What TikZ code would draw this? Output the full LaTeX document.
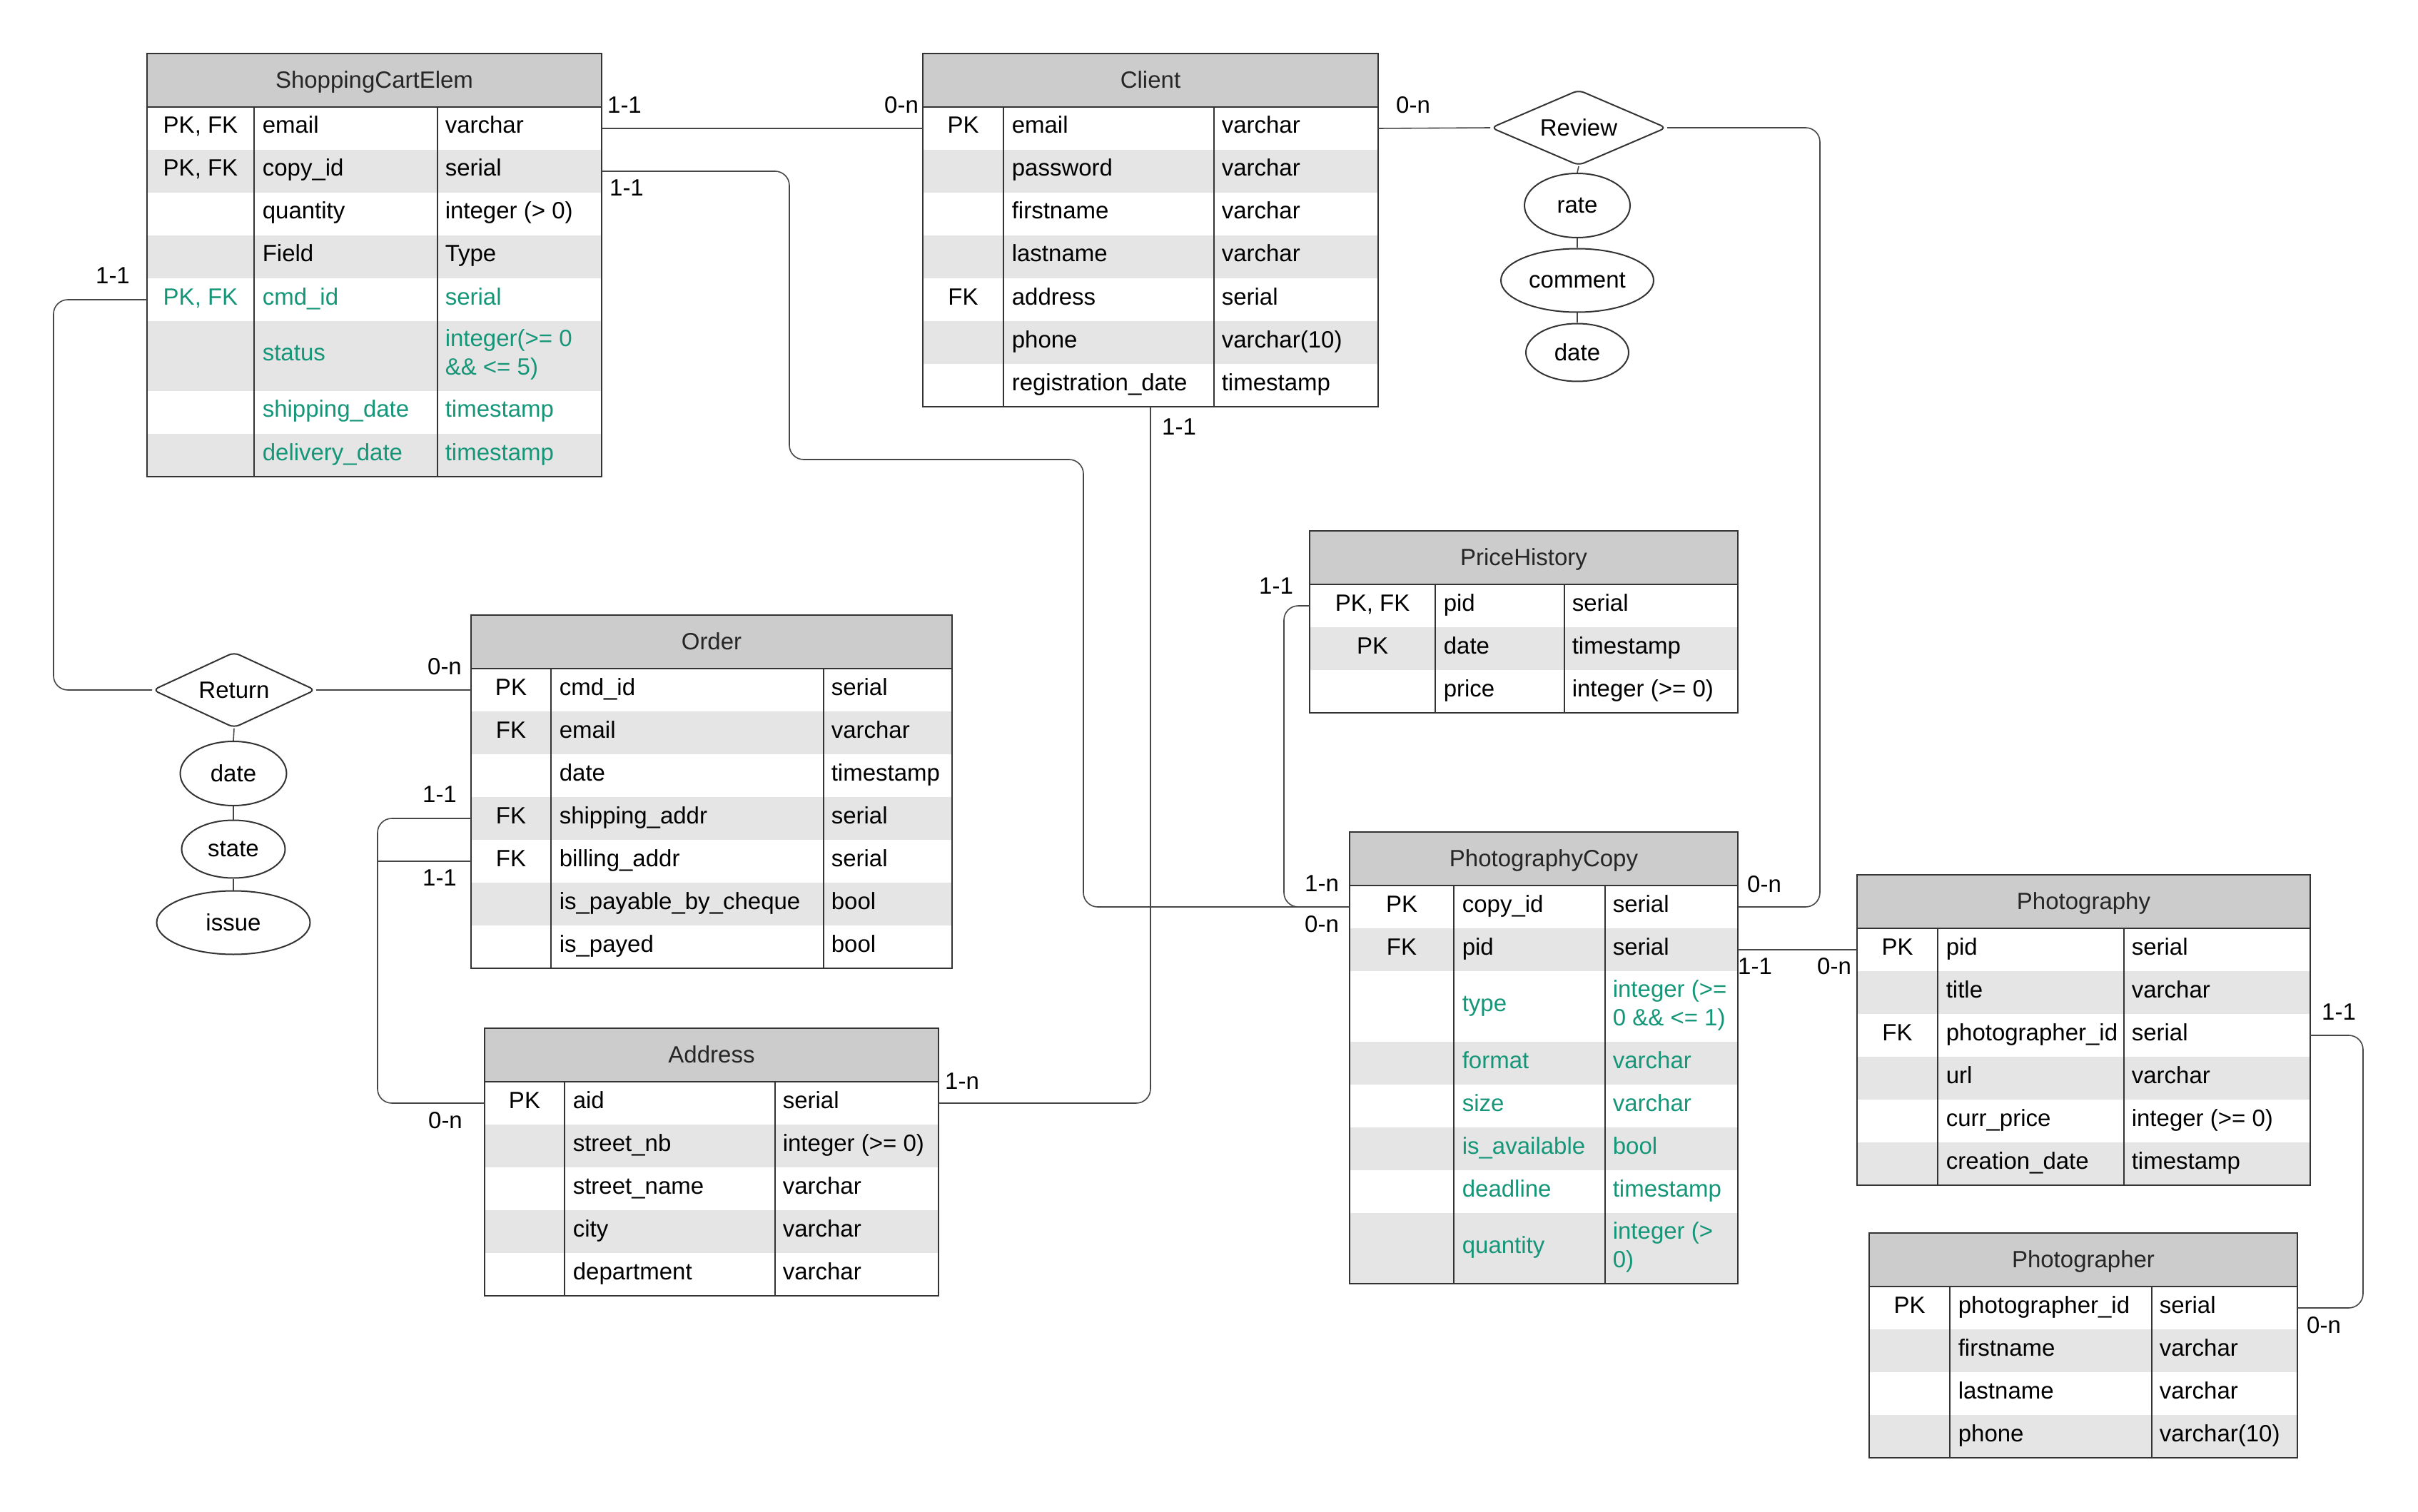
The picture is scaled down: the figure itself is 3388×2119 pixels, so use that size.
\documentclass[tikz,border=0pt]{standalone}
\usepackage{fontspec}
\setmainfont{Liberation Sans}
\usetikzlibrary{shapes.geometric}
\definecolor{hdr}{RGB}{204,204,204}
\definecolor{alt}{RGB}{229,229,229}
\definecolor{bord}{RGB}{51,51,51}
\definecolor{grn}{RGB}{22,150,120}
\definecolor{lnkc}{RGB}{70,70,70}
\newcommand\tabcols[4]{\def\cA{#1}\def\cB{#2}\def\cC{#3}\def\cD{#4}}
% row with single-line cells
\newcommand\erow[8]{%
  \fill[#4] (\cA,#2) rectangle (\cD,{#2+#3});
  \node[cell,text=#8,anchor=base] (#1-k) at ({(\cA+\cB)/2},{#2+#3/2+7}) {#5};
  \node[cell,text=#8,anchor=base west] (#1-f) at ({\cB+11},{#2+#3/2+7}) {#6};
  \node[cell,text=#8,anchor=base west] (#1-t) at ({\cC+10},{#2+#3/2+7}) {#7};
  \coordinate (#1-w) at (\cA,{#2+#3/2});
  \coordinate (#1-e) at (\cD,{#2+#3/2});
}
% row whose type cell has two lines
\newcommand\erowm[8]{%
  \fill[#4] (\cA,#2) rectangle (\cD,{#2+#3});
  \node[cell,text=#8,anchor=base] (#1-k) at ({(\cA+\cB)/2},{#2+#3/2+7}) {#5};
  \node[cell,text=#8,anchor=base west] (#1-f) at ({\cB+11},{#2+#3/2+7}) {#6};
  \node[cell,text=#8,anchor=west] (#1-t) at ({\cC+10},{#2+#3/2-2}) {#7};
  \coordinate (#1-w) at (\cA,{#2+#3/2});
  \coordinate (#1-e) at (\cD,{#2+#3/2});
}
\newcommand\ehead[3]{%
  \fill[hdr] (\cA,#2) rectangle (\cD,{#2+75});
  \node[cell,text=black!85,anchor=base] (#1-title) at ({(\cA+\cD)/2},{#2+37.5+11}) {#3};
}
\newcommand\eframe[3]{%
  \draw[tab] (\cA,{#2+75}) -- (\cD,{#2+75});
  \draw[tab] (\cB,{#2+75}) -- (\cB,#3) (\cC,{#2+75}) -- (\cC,#3);
  \draw[tab] (\cA,#2) rectangle (\cD,#3);
  \coordinate (#1-s) at ({(\cA+\cD)/2},#3);
}
\tikzset{
  cell/.style={font=\fontsize{8.25}{10}\selectfont, inner sep=0pt, align=left},
  card/.style={font=\fontsize{8.25}{10}\selectfont, inner sep=0pt, text=black},
  tab/.style={draw=bord, line width=0.5pt},
  lnk/.style={draw=lnkc, line width=0.4pt, rounded corners=5pt},
  rel/.style={diamond, draw=bord, line width=0.5pt, inner sep=0pt, rounded corners=2pt, font=\fontsize{8.25}{10}\selectfont},
  attr/.style={ellipse, draw=bord, line width=0.5pt, inner sep=0pt, font=\fontsize{8.25}{10}\selectfont},
}
\begin{document}
\begin{tikzpicture}[x=0.25pt,y=-0.25pt]
\useasboundingbox (0,0) rectangle (3388,2119);

% ShoppingCartElem
\tabcols{206}{356}{613}{843}
\ehead{sce}{75}{ShoppingCartElem}
\erow{sce-email}{150}{60}{white}{PK, FK}{email}{varchar}{black}
\erow{sce-copy}{210}{60}{alt}{PK, FK}{copy\_id}{serial}{black}
\erow{sce-qty}{270}{60}{white}{}{quantity}{integer (> 0)}{black}
\erow{sce-field}{330}{60}{alt}{}{Field}{Type}{black}
\erow{sce-cmd}{390}{60}{white}{PK, FK}{cmd\_id}{serial}{grn}
\erowm{sce-status}{450}{98}{alt}{}{status}{integer(>= 0\\\&\& <= 5)}{grn}
\erow{sce-ship}{548}{60}{white}{}{shipping\_date}{timestamp}{grn}
\erow{sce-deliv}{608}{60}{alt}{}{delivery\_date}{timestamp}{grn}
\eframe{sce}{75}{668}

% Client
\tabcols{1293}{1406}{1701}{1931}
\ehead{cl}{75}{Client}
\erow{cl-email}{150}{60}{white}{PK}{email}{varchar}{black}
\erow{cl-pwd}{210}{60}{alt}{}{password}{varchar}{black}
\erow{cl-first}{270}{60}{white}{}{firstname}{varchar}{black}
\erow{cl-last}{330}{60}{alt}{}{lastname}{varchar}{black}
\erow{cl-addr}{390}{60}{white}{FK}{address}{serial}{black}
\erow{cl-phone}{450}{60}{alt}{}{phone}{varchar(10)}{black}
\erow{cl-reg}{510}{60}{white}{}{registration\_date}{timestamp}{black}
\eframe{cl}{75}{570}

% PriceHistory
\tabcols{1835}{2011}{2192}{2435}
\ehead{ph}{744}{PriceHistory}
\erow{ph-pid}{819}{60}{white}{PK, FK}{pid}{serial}{black}
\erow{ph-date}{879}{60}{alt}{PK}{date}{timestamp}{black}
\erow{ph-price}{939}{60}{white}{}{price}{integer (>= 0)}{black}
\eframe{ph}{744}{999}

% Order
\tabcols{660}{772}{1154}{1334}
\ehead{ord}{862}{Order}
\erow{ord-cmd}{937}{60}{white}{PK}{cmd\_id}{serial}{black}
\erow{ord-email}{997}{60}{alt}{FK}{email}{varchar}{black}
\erow{ord-date}{1057}{60}{white}{}{date}{timestamp}{black}
\erow{ord-ship}{1117}{60}{alt}{FK}{shipping\_addr}{serial}{black}
\erow{ord-bill}{1177}{60}{white}{FK}{billing\_addr}{serial}{black}
\erow{ord-cheque}{1237}{60}{alt}{}{is\_payable\_by\_cheque}{bool}{black}
\erow{ord-payed}{1297}{60}{white}{}{is\_payed}{bool}{black}
\eframe{ord}{862}{1357}

% Address
\tabcols{679}{791}{1086}{1315}
\ehead{adr}{1441}{Address}
\erow{adr-aid}{1516}{60}{white}{PK}{aid}{serial}{black}
\erow{adr-nb}{1576}{60}{alt}{}{street\_nb}{integer (>= 0)}{black}
\erow{adr-name}{1636}{60}{white}{}{street\_name}{varchar}{black}
\erow{adr-city}{1696}{60}{alt}{}{city}{varchar}{black}
\erow{adr-dep}{1756}{60}{white}{}{department}{varchar}{black}
\eframe{adr}{1441}{1816}

% PhotographyCopy
\tabcols{1891}{2037}{2249}{2435}
\ehead{pc}{1166}{PhotographyCopy}
\erow{pc-copy}{1241}{60}{white}{PK}{copy\_id}{serial}{black}
\erow{pc-pid}{1301}{60}{alt}{FK}{pid}{serial}{black}
\erowm{pc-type}{1361}{99}{white}{}{type}{integer (>=\\0 \&\& <= 1)}{grn}
\erow{pc-format}{1460}{60}{alt}{}{format}{varchar}{grn}
\erow{pc-size}{1520}{60}{white}{}{size}{varchar}{grn}
\erow{pc-avail}{1580}{60}{alt}{}{is\_available}{bool}{grn}
\erow{pc-dead}{1640}{60}{white}{}{deadline}{timestamp}{grn}
\erowm{pc-qty}{1700}{99}{alt}{}{quantity}{integer (>\\0)}{grn}
\eframe{pc}{1166}{1799}

% Photography
\tabcols{2602}{2715}{2976}{3237}
\ehead{pg}{1226}{Photography}
\erow{pg-pid}{1301}{60}{white}{PK}{pid}{serial}{black}
\erow{pg-title}{1361}{60}{alt}{}{title}{varchar}{black}
\erow{pg-pgid}{1421}{60}{white}{FK}{photographer\_id}{serial}{black}
\erow{pg-url}{1481}{60}{alt}{}{url}{varchar}{black}
\erow{pg-price}{1541}{60}{white}{}{curr\_price}{integer (>= 0)}{black}
\erow{pg-cdate}{1601}{60}{alt}{}{creation\_date}{timestamp}{black}
\eframe{pg}{1226}{1661}

% Photographer
\tabcols{2619}{2732}{3015}{3219}
\ehead{pr}{1728}{Photographer}
\erow{pr-id}{1803}{60}{white}{PK}{photographer\_id}{serial}{black}
\erow{pr-first}{1863}{60}{alt}{}{firstname}{varchar}{black}
\erow{pr-last}{1923}{60}{white}{}{lastname}{varchar}{black}
\erow{pr-phone}{1983}{60}{alt}{}{phone}{varchar(10)}{black}
\eframe{pr}{1728}{2043}

% Relations and attributes
\node[rel, minimum width=61.5pt, minimum height=26.5pt, aspect=2.3] (review) at (2212,179) {Review};
\node[attr, minimum width=37pt, minimum height=22.5pt] (rrate) at (2210,288) {rate};
\node[attr, minimum width=53.5pt, minimum height=22.25pt] (rcomment) at (2210,393) {comment};
\node[attr, minimum width=36pt, minimum height=20.25pt] (rdate) at (2210,494) {date};
\node[rel, minimum width=57pt, minimum height=26.5pt, aspect=2.15] (return) at (328,967) {Return};
\node[attr, minimum width=37.25pt, minimum height=22.5pt] (tdate) at (327,1084) {date};
\node[attr, minimum width=36.25pt, minimum height=20.25pt] (tstate) at (327,1190) {state};
\node[attr, minimum width=53.75pt, minimum height=22.25pt] (tissue) at (327,1293) {issue};

\draw[lnk] (review.south) -- (rrate.north);
\draw[lnk] (rrate.south) -- (rcomment.north);
\draw[lnk] (rcomment.south) -- (rdate.north);
\draw[lnk] (return.south) -- (tdate.north);
\draw[lnk] (tdate.south) -- (tstate.north);
\draw[lnk] (tstate.south) -- (tissue.north);

% Connectors
\draw[lnk] (sce-email-e) -- (cl-email-w);
\draw[lnk] (sce-copy-e) -| (1106,644) -| (1518,1271) -- (pc-copy-w);
\draw[lnk] (ph-pid-w) -| (1799,1271) -- (pc-copy-w);
\draw[lnk] (cl-s) |- (adr-aid-e);
\draw[lnk] (cl-email-e) -- (review.west);
\draw[lnk] (review.east) -| (2550,1271) -- (pc-copy-e);
\draw[lnk] (sce-cmd-w) -| (75,967) -- (return.west);
\draw[lnk] (return.east) -- (ord-cmd-w);
\draw[lnk] (ord-ship-w) -| (529,1546) -- (adr-aid-w);
\draw[lnk] (ord-bill-w) -- (529,1207);
\draw[lnk] (pc-pid-e) -- (pg-pid-w);
\draw[lnk] (pg-pgid-e) -| (3311,1833) -- (pr-id-e);

% Cardinalities
\node[card] (k1) at (875,147) {1-1};
\node[card] (k2) at (1263,147) {0-n};
\node[card] (k3) at (878,263) {1-1};
\node[card] (k4) at (1980,147) {0-n};
\node[card] (k5) at (1652,598) {1-1};
\node[card] (k6) at (1348,1515) {1-n};
\node[card] (k7) at (158,386) {1-1};
\node[card] (k8) at (623,934) {0-n};
\node[card] (k9) at (616,1113) {1-1};
\node[card] (k10) at (616,1230) {1-1};
\node[card] (k11) at (624,1570) {0-n};
\node[card] (k12) at (1788,821) {1-1};
\node[card] (k13) at (1852,1238) {1-n};
\node[card] (k14) at (1852,1295) {0-n};
\node[card] (k15) at (2472,1239) {0-n};
\node[card] (k16) at (2459,1354) {1-1};
\node[card] (k17) at (2570,1354) {0-n};
\node[card] (k18) at (3277,1418) {1-1};
\node[card] (k19) at (3256,1857) {0-n};
\end{tikzpicture}
\end{document}
